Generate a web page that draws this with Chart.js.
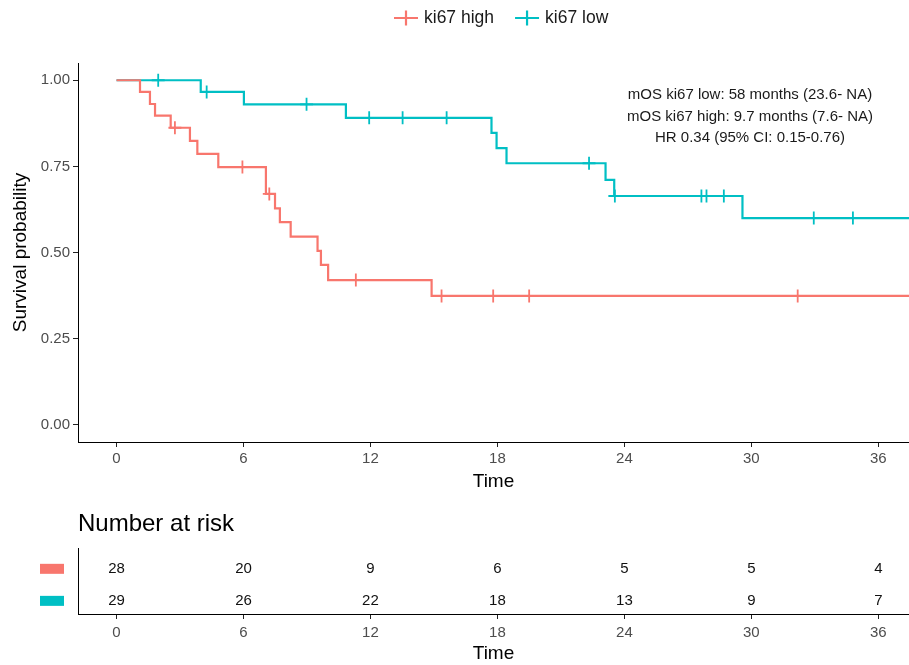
<!DOCTYPE html>
<html><head><meta charset="utf-8">
<script src="https://cdn.jsdelivr.net/npm/chart.js@4.4.1/dist/chart.umd.min.js"></script>
<style>html,body{margin:0;padding:0;background:#fff;} canvas{display:block;}</style>
</head><body>
<canvas id="km" width="909" height="500"></canvas>
<canvas id="risk" width="909" height="165"></canvas>
<script>
// ---------- data ----------
const seriesNames = ['ki67 high', 'ki67 low'];
const xTicks = [0, 6, 12, 18, 24, 30, 36];
const yTicks = [0, 0.25, 0.5, 0.75, 1];

const highTimes = [0, 1.11, 1.58, 1.82, 2.56, 3.47, 3.82, 4.81, 7.06, 7.49, 7.72, 8.23, 9.50, 9.66, 10.0, 14.89, 38];
const highSurv  = [1, 0.966, 0.931, 0.897, 0.862, 0.824, 0.786, 0.748, 0.670, 0.628, 0.588, 0.546, 0.505, 0.464, 0.420, 0.374, 0.374];
const highCensor = [2.76, 5.95, 7.22, 11.31, 15.36, 17.80, 19.50, 32.19];

const lowTimes = [0, 3.98, 6.02, 10.84, 17.72, 17.96, 18.43, 23.11, 23.52, 29.58, 38];
const lowSurv  = [1, 0.966, 0.930, 0.891, 0.847, 0.803, 0.759, 0.711, 0.664, 0.600, 0.600];
const lowCensor = [1.97, 4.26, 8.98, 11.94, 13.52, 15.60, 22.33, 23.55, 27.64, 27.88, 28.70, 32.95, 34.80];

const riskTimes = [0, 6, 12, 18, 24, 30, 36];
const riskHigh = [28, 20, 9, 6, 5, 5, 4];
const riskLow  = [29, 26, 22, 18, 13, 9, 7];

const annotationLines = [
  'mOS ki67 low: 58 months (23.6- NA)',
  'mOS ki67 high: 9.7 months (7.6- NA)',
  'HR 0.34 (95% CI: 0.15-0.76)'
];

// ---------- styling ----------
const colors = ['#F8766D', '#00BFC4'];
const FAM = '"Liberation Sans", Arial, Helvetica, sans-serif';

function steps(times, surv) { return times.map((t, i) => ({x: t, y: surv[i]})); }
function survAt(times, surv, t) {
  let s = surv[0];
  for (let i = 0; i < times.length; i++) if (times[i] <= t) s = surv[i];
  return s;
}
function censorPts(c, times, surv) { return c.map(t => ({x: t, y: survAt(times, surv, t)})); }

const legendPlugin = {
  id: 'kmLegend',
  afterDraw(chart) {
    const ctx = chart.ctx;
    ctx.save();
    ctx.font = '17.5px ' + FAM;
    const y = 18;
    const widths = seriesNames.map(n => ctx.measureText(n).width);
    const symHalf = 12, textGap = 18, itemGap = 9;
    let x = 406;
    seriesNames.forEach((n, i) => {
      ctx.strokeStyle = colors[i];
      ctx.lineWidth = 2.2;
      ctx.beginPath();
      ctx.moveTo(x - symHalf, y); ctx.lineTo(x + symHalf, y);
      ctx.moveTo(x, y - 7.5); ctx.lineTo(x, y + 7.5);
      ctx.stroke();
      ctx.fillStyle = '#1a1a1a';
      ctx.textAlign = 'left';
      ctx.textBaseline = 'middle';
      ctx.fillText(n, x + textGap, y);
      x += textGap + widths[i] + itemGap + symHalf * 2;
    });
    // annotation
    ctx.font = '15px ' + FAM;
    ctx.textAlign = 'center';
    ctx.fillStyle = '#1a1a1a';
    annotationLines.forEach((l, i) => ctx.fillText(l, 750, 95 + i * 21.5));
    ctx.restore();
  }
};

new Chart(document.getElementById('km'), {
  type: 'line',
  data: {
    datasets: [
      {label: seriesNames[0], data: steps(highTimes, highSurv), borderColor: colors[0], borderWidth: 2.2, stepped: true, pointRadius: 0, fill: false},
      {label: seriesNames[1], data: steps(lowTimes, lowSurv), borderColor: colors[1], borderWidth: 2.2, stepped: true, pointRadius: 0, fill: false},
      {label: seriesNames[0] + ' censored', type: 'scatter', data: censorPts(highCensor, highTimes, highSurv), pointStyle: 'cross', pointRadius: 6.5, borderColor: colors[0], backgroundColor: colors[0], pointBorderWidth: 1.8, showLine: false},
      {label: seriesNames[1] + ' censored', type: 'scatter', data: censorPts(lowCensor, lowTimes, lowSurv), pointStyle: 'cross', pointRadius: 6.5, borderColor: colors[1], backgroundColor: colors[1], pointBorderWidth: 1.8, showLine: false}
    ]
  },
  options: {
    responsive: false, animation: false, devicePixelRatio: 1,
    layout: {autoPadding: false, padding: {top: 63, left: 0, right: 0, bottom: 0}},
    plugins: {legend: {display: false}, tooltip: {enabled: false}},
    scales: {
      x: {
        type: 'linear', min: -1.82, max: 37.45,
        afterBuildTicks: s => { s.ticks = xTicks.map(v => ({value: v})); },
        afterFit: s => { s.height = 58; },
        grid: {drawOnChartArea: false, drawTicks: true, tickLength: 5, color: '#222', lineWidth: 1},
        border: {display: true, color: '#000', width: 1},
        ticks: {color: '#4D4D4D', font: {size: 15, family: FAM}, padding: 3, maxRotation: 0},
        title: {display: true, text: 'Time', color: '#000', font: {size: 19, family: FAM}, padding: {top: 0, bottom: 7}}
      },
      y: {
        type: 'linear', min: -0.05, max: 1.05,
        afterBuildTicks: s => { s.ticks = yTicks.map(v => ({value: v})); },
        afterFit: s => { s.width = 78; },
        grid: {drawOnChartArea: false, drawTicks: true, tickLength: 5, color: '#222', lineWidth: 1},
        border: {display: true, color: '#000', width: 1},
        ticks: {color: '#4D4D4D', font: {size: 15, family: FAM}, padding: 3, callback: v => Number(v).toFixed(2)},
        title: {display: true, text: 'Survival probability', color: '#000', font: {size: 19, family: FAM}, padding: {top: 9, bottom: 0}}
      }
    }
  },
  plugins: [legendPlugin]
});

const riskPlugin = {
  id: 'riskText',
  afterDraw(chart) {
    const ctx = chart.ctx, xs = chart.scales.x, ys = chart.scales.y;
    ctx.save();
    ctx.font = '24px ' + FAM;
    ctx.fillStyle = '#000';
    ctx.textAlign = 'left'; ctx.textBaseline = 'middle';
    ctx.fillText('Number at risk', 78, 24);
    ctx.font = '15px ' + FAM;
    ctx.textAlign = 'center';
    [riskHigh, riskLow].forEach((row, r) => {
      const yy = ys.getPixelForValue(1 - r);
      ctx.fillStyle = '#111';
      row.forEach((v, i) => ctx.fillText(String(v), xs.getPixelForValue(riskTimes[i]), yy));
      ctx.fillStyle = colors[r];
      ctx.fillRect(40, yy - 5, 24, 10);
    });
    ctx.restore();
  }
};

new Chart(document.getElementById('risk'), {
  type: 'scatter',
  data: {datasets: [{data: riskTimes.map(t => ({x: t, y: 1})), pointRadius: 0}]},
  options: {
    responsive: false, animation: false, devicePixelRatio: 1,
    layout: {autoPadding: false, padding: {top: 48, left: 0, right: 0, bottom: 0}},
    plugins: {legend: {display: false}, tooltip: {enabled: false}},
    scales: {
      x: {
        type: 'linear', min: -1.82, max: 37.45,
        afterBuildTicks: s => { s.ticks = xTicks.map(v => ({value: v})); },
        afterFit: s => { s.height = 51; },
        grid: {drawOnChartArea: false, drawTicks: true, tickLength: 5, color: '#222', lineWidth: 1},
        border: {display: true, color: '#000', width: 1},
        ticks: {color: '#4D4D4D', font: {size: 15, family: FAM}, padding: 5, maxRotation: 0},
        title: {display: true, text: 'Time', color: '#000', font: {size: 19, family: FAM}, padding: {top: 0, bottom: 0}}
      },
      y: {
        type: 'linear', min: -0.41, max: 1.65,
        afterFit: s => { s.width = 78; },
        grid: {display: false},
        border: {display: true, color: '#000', width: 1},
        ticks: {display: false}
      }
    }
  },
  plugins: [riskPlugin]
});
</script>
</body></html>
